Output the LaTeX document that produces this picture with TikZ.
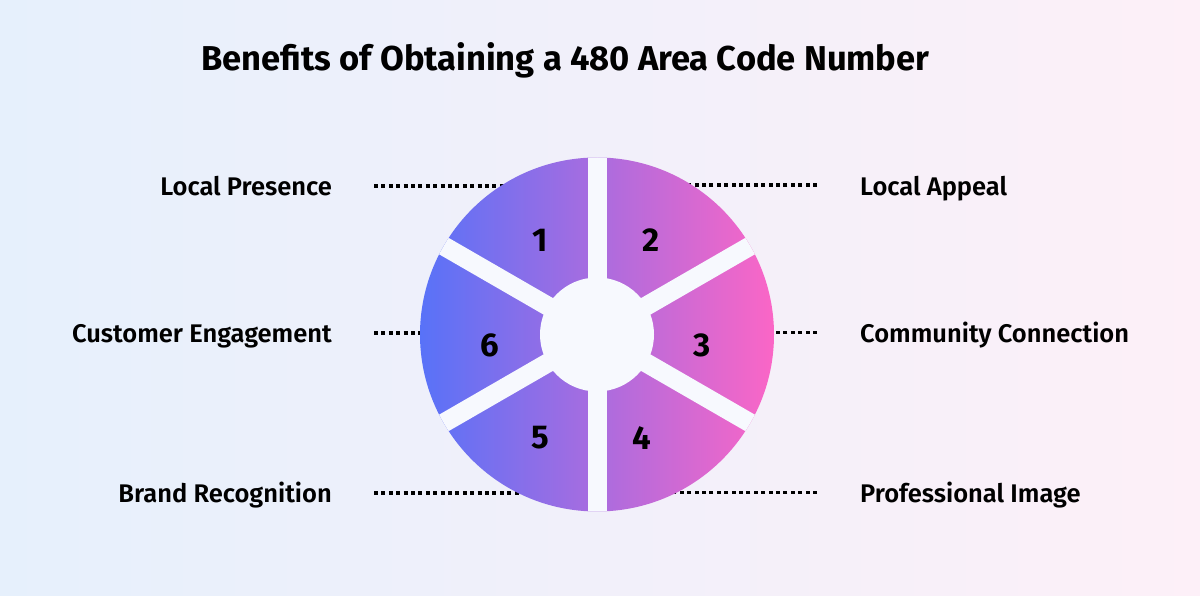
\documentclass[tikz,border=0pt]{standalone}
\usepackage{fontspec}
\setmainfont{Fira Sans}
\newfontface\labelface{Fira Sans SemiBold}
\usetikzlibrary{positioning}
\definecolor{bgleft}{HTML}{E6F0FC}
\definecolor{bgright}{HTML}{FDF0F8}
\definecolor{wheelleft}{HTML}{5872F8}
\definecolor{wheelright}{HTML}{FB66C6}
\definecolor{spokewhite}{HTML}{F7F9FE}
\begin{document}
\begin{tikzpicture}[x=1pt, y=1pt,
    title/.style={font=\fontsize{34.5}{40}\selectfont\bfseries, inner sep=0pt},
    lbl/.style={font=\fontsize{25.5}{30}\selectfont\labelface, inner sep=0pt},
    num/.style={font=\fontsize{33}{36}\selectfont\bfseries, inner sep=0pt},
    dotline/.style={line width=3.5pt, dash pattern=on 4pt off 3.4pt},
    spoke/.style={draw=spokewhite, line width=19pt}]
    % Background
    \shade[left color=bgleft, right color=bgright] (0,0) rectangle (1200,596);
    \useasboundingbox (0,0) rectangle (1200,596);
    % Title
    \node[title, anchor=base] (title) at (565.5,525) {Benefits of Obtaining a 480 Area Code Number};
    % Define centre and label points
    \coordinate (c) at (597,261.5);
    \coordinate (d1) at (374,410);
    \coordinate (d2) at (817,411);
    \coordinate (d3) at (817,263.5);
    \coordinate (d4) at (817,103.5);
    \coordinate (d5) at (374,103);
    \coordinate (d6) at (374,263);
    \node[lbl, anchor=base east] (lp) at (332,400) {Local Presence};
    \node[lbl, anchor=base west] (la) at (860,400) {Local Appeal};
    \node[lbl, anchor=base west] (cc) at (860,253) {Community Connection};
    \node[lbl, anchor=base west] (pi) at (860,93) {Professional Image};
    \node[lbl, anchor=base east] (br) at (332,93) {Brand Recognition};
    \node[lbl, anchor=base east] (ce) at (332,253) {Customer Engagement};
    % Dotted connectors, hidden behind the wheel
    \foreach \d in {d1,d2,d3,d4,d5,d6}
        \draw[dotline] (\d) -- (\d -| c);
    % Wheel
    \shade[left color=wheelleft, right color=wheelright] (c) circle (177);
    \begin{scope}
        \clip (c) circle (177);
        \foreach \a in {30,90,150}
            \draw[spoke] (c) ++(\a:180) -- ++(\a+180:360);
    \end{scope}
    \fill[spokewhite] (c) circle (57);
    % Segment numbers
    \node[num] (n1) at (540,356) {1};
    \node[num] (n2) at (651,356) {2};
    \node[num] (n3) at (702,250.5) {3};
    \node[num] (n4) at (642,158) {4};
    \node[num] (n5) at (540,158) {5};
    \node[num] (n6) at (490,251) {6};
\end{tikzpicture}
\end{document}
